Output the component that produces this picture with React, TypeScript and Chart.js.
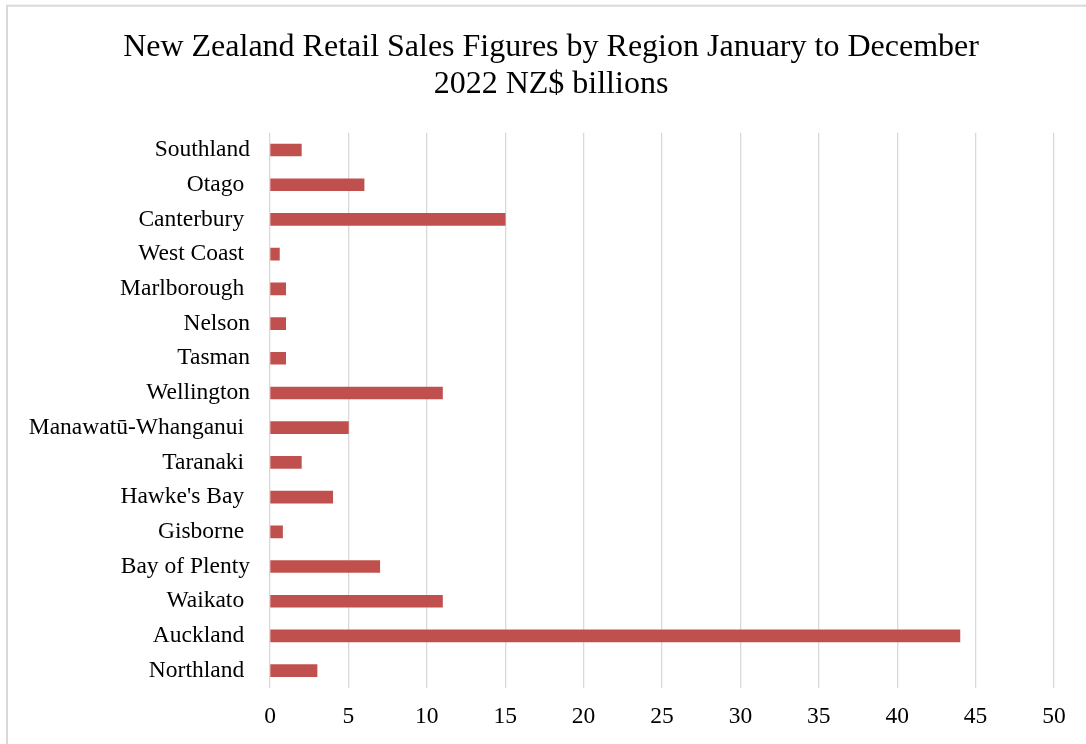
import React, { useEffect, useRef } from "react";
import { Chart, registerables } from "chart.js";

Chart.register(...registerables);

const regions = [
  "Northland ",
  "Auckland ",
  "Waikato ",
  "Bay of Plenty",
  "Gisborne ",
  "Hawke's Bay ",
  "Taranaki ",
  "Manawatū-Whanganui ",
  "Wellington",
  "Tasman",
  "Nelson",
  "Marlborough ",
  "West Coast ",
  "Canterbury ",
  "Otago ",
  "Southland",
];

const salesBillions = [3, 44, 11, 7, 0.8, 4, 2, 5, 11, 1, 1, 1, 0.6, 15, 6, 2];

const xTicks = [0, 5, 10, 15, 20, 25, 30, 35, 40, 45, 50];

const titleLines = [
  "New Zealand Retail Sales Figures by Region January to December",
  "2022 NZ$ billions",
];

const FONT = "'Liberation Serif', 'Times New Roman', serif";

const frameBorder = {
  id: "frameBorder",
  beforeDraw(chart: any) {
    const ctx = chart.ctx;
    ctx.save();
    ctx.fillStyle = "#ffffff";
    ctx.fillRect(0, 0, chart.width, chart.height);
    ctx.strokeStyle = "#d9d9d9";
    ctx.lineWidth = 2;
    ctx.strokeRect(7, 5.7, chart.width + 20, chart.height + 20);
    ctx.restore();
  },
};

export default function App() {
  const canvasRef = useRef<HTMLCanvasElement | null>(null);

  useEffect(() => {
    if (!canvasRef.current) return;
    const chart = new Chart(canvasRef.current, {
      type: "bar",
      data: {
        labels: regions,
        datasets: [
          {
            data: salesBillions,
            backgroundColor: "#C0504D",
            borderWidth: 0,
            barThickness: 12,
          },
        ],
      },
      options: {
        indexAxis: "y",
        responsive: false,
        animation: false,
        layout: { padding: { left: 16, right: 0, top: 0, bottom: 0 } },
        plugins: {
          legend: { display: false },
          tooltip: { enabled: false },
          title: {
            display: true,
            text: titleLines,
            color: "#000000",
            font: { family: FONT, size: 32, weight: "normal", lineHeight: 1.16 },
            padding: { top: 29.4, bottom: 29 },
          },
        },
        scales: {
          x: {
            type: "linear",
            min: 0,
            max: 50,
            afterBuildTicks: (scale: any) => {
              scale.ticks = xTicks.map((v) => ({ value: v }));
            },
            afterFit: (scale: any) => {
              scale.height = 56;
              scale.paddingRight = 32;
              scale.paddingLeft = 0;
            },
            grid: { color: "#d9d9d9", lineWidth: 1.3, drawTicks: false },
            border: { display: false },
            ticks: {
              color: "#000000",
              padding: 15,
              font: { family: FONT, size: 23.5 },
            },
          },
          y: {
            reverse: true,
            afterFit: (scale: any) => {
              scale.width = 254;
            },
            grid: { display: false, drawTicks: false },
            border: { display: false },
            ticks: {
              color: "#000000",
              padding: 20,
              font: { family: FONT, size: 23.5 },
            },
          },
        },
      },
      plugins: [frameBorder],
    });
    return () => chart.destroy();
  }, []);

  return (
    <div style={{ position: "absolute", left: 0, top: 0, width: 1086, height: 744 }}>
      <canvas ref={canvasRef} width={1086} height={744} />
    </div>
  );
}
